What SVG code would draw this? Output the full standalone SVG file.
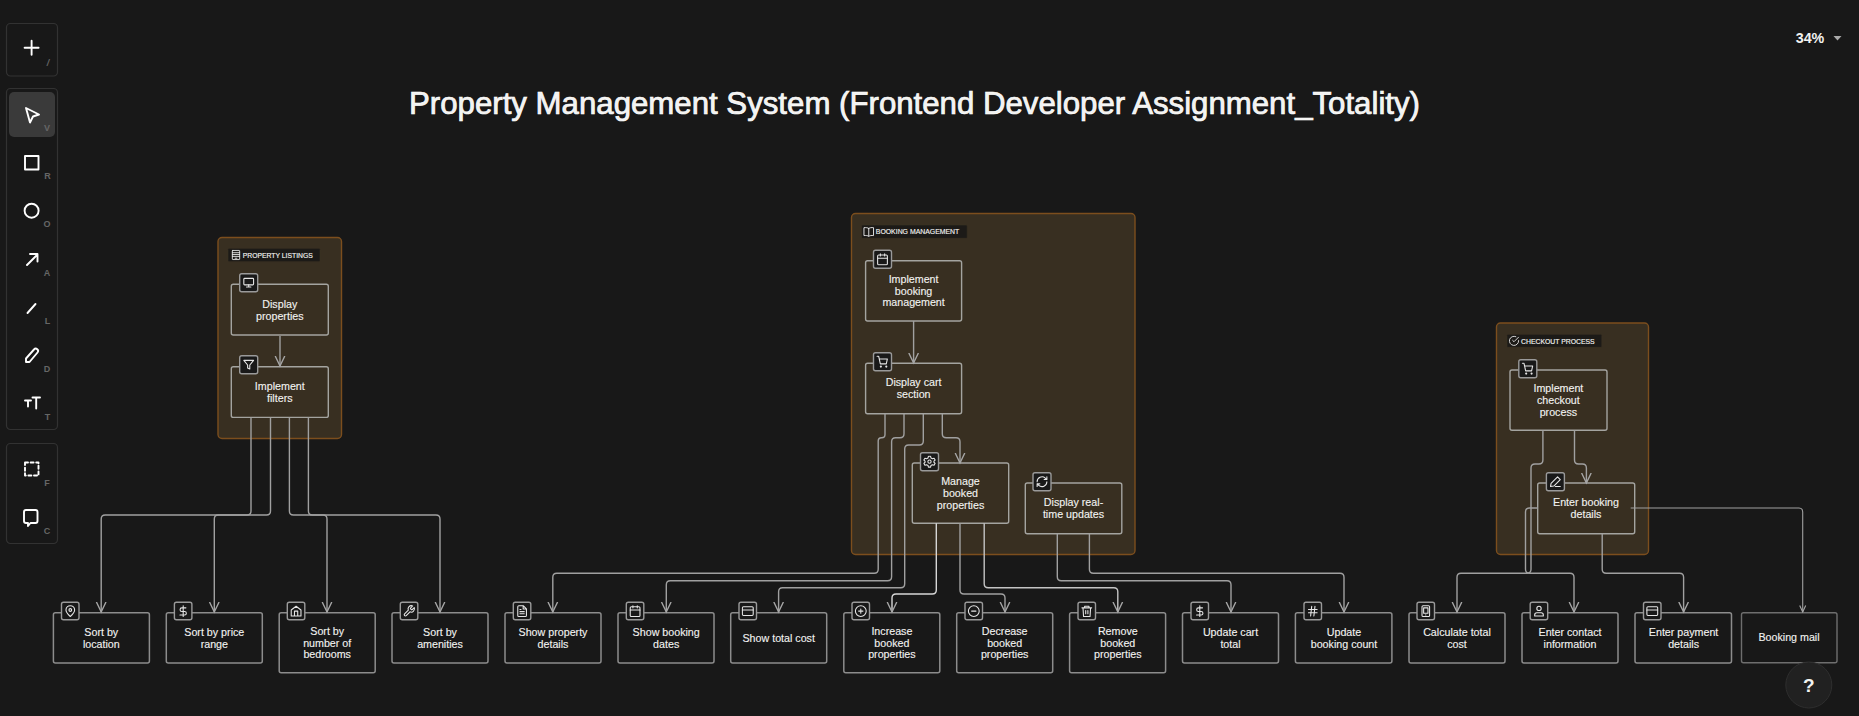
<svg xmlns="http://www.w3.org/2000/svg" width="1859" height="716" viewBox="0 0 1859 716">
<style>
text{font-family:"Liberation Sans",Arial,sans-serif;fill:#f2f2f0}
.t{font-size:10.7px;text-anchor:middle;stroke:#f2f2f0;stroke-width:.12}
.k{font-size:9px;fill:#666;text-anchor:middle;font-weight:700}
.gl{font-size:7.4px;stroke:#f2f2f0;stroke-width:.15}
.panel{fill:#181818;stroke:#323232;stroke-width:1.2}
.tool{fill:none;stroke:#fff;stroke-width:1.9;stroke-linecap:round;stroke-linejoin:round}
.frame{fill:#382f21;stroke:#7c4e1d;stroke-width:1.4}
.lab{fill:#1c1a17;stroke:#3a3224;stroke-width:.6}
.node{fill:none;stroke:#a4a4a0;stroke-width:1.4}
.nb{fill:none;stroke:#8c8c8c;stroke-width:1.5}
.badge{fill:#191919;stroke:#9a9a9a;stroke-width:1.4}
.ic{fill:none;stroke:#e6e6e6;stroke-width:2;stroke-linecap:round;stroke-linejoin:round}
.c{fill:none;stroke:#a0a0a0;stroke-width:1.4;marker-end:url(#ah)}
.c2{fill:none;stroke:#a0a0a0;stroke-width:1.1;marker-end:url(#ahs)}
</style>
<defs>
<marker id="ah" markerUnits="userSpaceOnUse" markerWidth="12" markerHeight="12" viewBox="0 0 12 12" refX="10.5" refY="6" orient="auto"><path d="M0.5,1.2 L10.5,6 L0.5,10.8" fill="none" stroke="#a6a6a6" stroke-width="1.4"/></marker>
<marker id="ahs" markerUnits="userSpaceOnUse" markerWidth="8" markerHeight="8" viewBox="0 0 8 8" refX="7" refY="4" orient="auto"><path d="M0.5,1 L7,4 L0.5,7" fill="none" stroke="#a6a6a6" stroke-width="1.1"/></marker>
<symbol id="i-monitor" viewBox="0 0 24 24"><rect class="ic" x="3" y="4" width="18" height="12" rx="1.5"/><path class="ic" d="M12 16v4M8 20h8"/></symbol>
<symbol id="i-filter" viewBox="0 0 24 24"><path class="ic" d="M3 4h18l-7 8.5V20l-4-2v-5.500z"/></symbol>
<symbol id="i-pin" viewBox="0 0 24 24"><path class="ic" d="M12 22C6 16.500 4 13.500 4 10a8 8 0 0 1 16 0c0 3.500-2 6.500-8 12z"/><circle class="ic" cx="12" cy="10" r="2.500"/></symbol>
<symbol id="i-dollar" viewBox="0 0 24 24"><path class="ic" d="M12 2v20M17 6H9.500a3.300 3.300 0 0 0 0 6.600h5a3.300 3.300 0 0 1 0 6.600H6"/></symbol>
<symbol id="i-home" viewBox="0 0 24 24"><path class="ic" d="M3 10l9-7 9 7v11H3zM9 21v-9h6v9"/></symbol>
<symbol id="i-wrench" viewBox="0 0 24 24"><path class="ic" d="M14.700 6.300a1 1 0 0 0 0 1.400l1.600 1.600a1 1 0 0 0 1.400 0l3.800-3.800a6 6 0 0 1-7.900 7.900l-6.900 6.900a2.100 2.100 0 0 1-3-3l6.900-6.900a6 6 0 0 1 7.900-7.900z"/></symbol>
<symbol id="i-doc" viewBox="0 0 24 24"><path class="ic" d="M14 2H6a2 2 0 0 0-2 2v16a2 2 0 0 0 2 2h12a2 2 0 0 0 2-2V8zM14 2v6h6M8 13h8M8 17h8M8 9h2"/></symbol>
<symbol id="i-cal" viewBox="0 0 24 24"><rect class="ic" x="3" y="4" width="18" height="18" rx="2"/><path class="ic" d="M8 2v4M16 2v4M3 10h18"/></symbol>
<symbol id="i-card" viewBox="0 0 24 24"><rect class="ic" x="2" y="4" width="20" height="16" rx="2"/><path class="ic" d="M2 10h20"/></symbol>
<symbol id="i-plus" viewBox="0 0 24 24"><circle class="ic" cx="12" cy="12" r="10"/><path class="ic" d="M12 8v8M8 12h8"/></symbol>
<symbol id="i-minus" viewBox="0 0 24 24"><circle class="ic" cx="12" cy="12" r="10"/><path class="ic" d="M8 12h8"/></symbol>
<symbol id="i-trash" viewBox="0 0 24 24"><path class="ic" d="M3 6h18M8 6V3h8v3M5 6l1 16h12l1-16M10 11v6M14 11v6"/></symbol>
<symbol id="i-hash" viewBox="0 0 24 24"><path class="ic" d="M4 9h16M4 15h16M10 3L8 21M16 3l-2 18"/></symbol>
<symbol id="i-tablet" viewBox="0 0 24 24"><rect class="ic" x="5" y="2" width="14" height="20" rx="2"/><rect class="ic" x="8" y="6" width="8" height="10"/><path class="ic" d="M12 19h.01"/></symbol>
<symbol id="i-user" viewBox="0 0 24 24"><circle class="ic" cx="12" cy="7" r="4"/><path class="ic" d="M4 21v-2a4 4 0 0 1 4-4h8a4 4 0 0 1 4 4v2z"/></symbol>
<symbol id="i-cart" viewBox="0 0 24 24"><circle class="ic" cx="9" cy="21" r="1"/><circle class="ic" cx="19" cy="21" r="1"/><path class="ic" d="M2 2h3l3 14h11l2-9H6"/></symbol>
<symbol id="i-gear" viewBox="0 0 24 24"><circle class="ic" cx="12" cy="12" r="3"/><path class="ic" d="M10 2h4l.7 3 2.700 1.500 3-1 2 3.500-2.200 2 0 2 2.200 2-2 3.500-3-1-2.700 1.500-.7 3h-4l-.7-3-2.700-1.500-3 1-2-3.500 2.200-2 0-2-2.200-2 2-3.500 3 1L9.300 5z"/></symbol>
<symbol id="i-sync" viewBox="0 0 24 24"><path class="ic" d="M3 12a9 9 0 0 1 15-6.700L21 8M21 3v5h-5M21 12a9 9 0 0 1-15 6.700L3 16M3 21v-5h5"/></symbol>
<symbol id="i-pen" viewBox="0 0 24 24"><path class="ic" d="M16 3l5 5L9 20l-6 1 1-6zM12 21h9"/></symbol>
<symbol id="i-bld" viewBox="0 0 24 24"><rect class="ic" x="4" y="2" width="16" height="20" rx="1"/><path class="ic" d="M4 7h16M4 11h16M4 15h16M10 19h4"/></symbol>
<symbol id="i-book" viewBox="0 0 24 24"><path class="ic" d="M12 5C10 3.500 6 3 2 3.500V20c4-.5 8 0 10 1.500 2-1.500 6-2 10-1.500V3.500C18 3 14 3.500 12 5zM12 5v16"/></symbol>
<symbol id="i-check" viewBox="0 0 24 24"><path class="ic" d="M22 11v1a10 10 0 1 1-6-9.100M9 11l3 3L22 4"/></symbol>
</defs>

<rect width="1859" height="716" fill="#181818"/>

<g id="toolbar">
<rect class="panel" x="6.500" y="23.500" width="51" height="52.500" rx="4"/>
<rect class="panel" x="6.500" y="88.500" width="51" height="341" rx="4"/>
<rect class="panel" x="6.500" y="443.500" width="51" height="100" rx="4"/>
<rect x="9" y="92" width="46" height="45" rx="5" fill="#3a3a3a"/>
<path class="tool" d="M31.600 40.700v14M24.600 47.700h14"/>
<path class="tool" d="M27 107l13 6.500-6 2-3 6z" transform="translate(-1,1)" stroke-width="1.700"/>
<rect class="tool" x="25" y="156" width="13.500" height="13.500"/>
<circle class="tool" cx="31.600" cy="210.700" r="7"/>
<path class="tool" d="M27 265l10-10M30 254h7.500v7.500"/>
<path class="tool" d="M27.500 313l8-9"/>
<path class="tool" d="M26 362v-3.500l8-9a2 2 0 0 1 3.500 3l-8 9.500z" stroke-width="1.600"/>
<path class="tool" d="M25 400.500h6M28 400.500v6M32.500 397.500h7.500M36.200 397.500v11"/>
<rect class="tool" x="25" y="462.500" width="13.500" height="13" stroke-dasharray="3 2.600"/>
<path class="tool" d="M26 510h9.500a2 2 0 0 1 2 2v9a2 2 0 0 1-2 2h-5l-2.500 3v-3h-2a2 2 0 0 1-2-2v-9a2 2 0 0 1 2-2z"/>
<text class="k" x="48" y="66" font-style="italic">/</text>
<text class="k" x="47" y="131">V</text>
<text class="k" x="47.500" y="179">R</text>
<text class="k" x="47" y="227">O</text>
<text class="k" x="47" y="276">A</text>
<text class="k" x="47.500" y="324">L</text>
<text class="k" x="47" y="372">D</text>
<text class="k" x="47.500" y="420">T</text>
<text class="k" x="47" y="486">F</text>
<text class="k" x="47" y="534">C</text>
</g>

<text id="title" x="409" y="114" font-size="31" textLength="1011" lengthAdjust="spacingAndGlyphs" fill="#fff" stroke="#fff" stroke-width=".7">Property Management System (Frontend Developer Assignment_Totality)</text>

<g id="zoom-control">
<text x="1795.700" y="43.300" font-size="14.300" font-weight="700" fill="#fff">34%</text>
<path d="M1833.500 36h8l-4 4.500z" fill="#aaa"/>
</g>

<g id="frames">
<g id="frame-property">
<rect class="frame" x="218" y="237.500" width="123.500" height="201" rx="4"/>
<rect class="lab" x="228" y="248.300" width="92" height="13.400" rx="1"/>
<use href="#i-bld" x="230.500" y="249.500" width="11" height="11"/>
<text class="gl" x="242.800" y="258" textLength="70" lengthAdjust="spacingAndGlyphs">PROPERTY LISTINGS</text>
</g>
<g id="frame-booking">
<rect class="frame" x="851.500" y="213.500" width="283.500" height="341" rx="4"/>
<rect class="lab" x="861.600" y="225" width="105.600" height="13.300" rx="1"/>
<use href="#i-book" x="863" y="226" width="11.500" height="11.500"/>
<text class="gl" x="875.800" y="234.300" textLength="83.500" lengthAdjust="spacingAndGlyphs">BOOKING MANAGEMENT</text>
</g>
<g id="frame-checkout">
<rect class="frame" x="1496.500" y="323" width="152" height="231.500" rx="4"/>
<rect class="lab" x="1507" y="334.300" width="94.800" height="13" rx="1"/>
<use href="#i-check" x="1508.500" y="335.300" width="11" height="11"/>
<text class="gl" x="1521" y="344" textLength="73.700" lengthAdjust="spacingAndGlyphs">CHECKOUT PROCESS</text>
</g>
</g>

<g id="nodes">
<g id="n-display-properties"><rect class="node" x="231.300" y="284.300" width="97" height="50.700" rx="2"/><rect class="badge" x="239.700" y="273.700" width="18" height="18" rx="2"/><use href="#i-monitor" x="242.200" y="276.200" width="13" height="13"/><text class="t" x="279.800" y="308.300">Display</text><text class="t" x="279.800" y="320">properties</text></g>
<g id="n-implement-filters"><rect class="node" x="231.300" y="366.700" width="97" height="50.700" rx="2"/><rect class="badge" x="239.700" y="355.700" width="18" height="18" rx="2"/><use href="#i-filter" x="242.200" y="358.200" width="13" height="13"/><text class="t" x="279.800" y="390">Implement</text><text class="t" x="279.800" y="401.700">filters</text></g>

<g id="n-implement-booking"><rect class="node" x="865.600" y="260.700" width="96" height="60.300" rx="2"/><rect class="badge" x="873.500" y="250.300" width="18" height="18" rx="2"/><use href="#i-cal" x="876" y="252.800" width="13" height="13"/><text class="t" x="913.600" y="282.700">Implement</text><text class="t" x="913.600" y="294.500">booking</text><text class="t" x="913.600" y="306">management</text></g>
<g id="n-display-cart"><rect class="node" x="865.600" y="363.300" width="96" height="50.400" rx="2"/><rect class="badge" x="873.500" y="352.700" width="18" height="18" rx="2"/><use href="#i-cart" x="876" y="355.200" width="13" height="13"/><text class="t" x="913.600" y="386.300">Display cart</text><text class="t" x="913.600" y="398">section</text></g>
<g id="n-manage-booked"><rect class="node" x="912.300" y="463" width="96.400" height="60.300" rx="2"/><rect class="badge" x="920.500" y="452.700" width="18" height="18" rx="2"/><use href="#i-gear" x="923" y="455.200" width="13" height="13"/><text class="t" x="960.500" y="485">Manage</text><text class="t" x="960.500" y="496.700">booked</text><text class="t" x="960.500" y="508.500">properties</text></g>
<g id="n-realtime"><rect class="node" x="1025.300" y="483" width="96.500" height="50.700" rx="2"/><rect class="badge" x="1033" y="472.700" width="18" height="18" rx="2"/><use href="#i-sync" x="1035.500" y="475.200" width="13" height="13"/><text class="t" x="1073.500" y="506">Display real-</text><text class="t" x="1073.500" y="518">time updates</text></g>

<g id="n-implement-checkout"><rect class="node" x="1510" y="370" width="97" height="60.300" rx="2"/><rect class="badge" x="1518.800" y="359.700" width="18" height="18" rx="2"/><use href="#i-cart" x="1521.300" y="362.200" width="13" height="13"/><text class="t" x="1558.400" y="392">Implement</text><text class="t" x="1558.400" y="403.700">checkout</text><text class="t" x="1558.400" y="415.500">process</text></g>
<g id="n-enter-booking"><rect class="node" x="1537.700" y="483" width="97" height="50.700" rx="2"/><rect class="badge" x="1546.400" y="472.700" width="18" height="18" rx="2"/><use href="#i-pen" x="1548.900" y="475.200" width="13" height="13"/><text class="t" x="1586" y="506">Enter booking</text><text class="t" x="1586" y="518">details</text></g>

<g id="n-sort-location"><rect class="nb" x="53.400" y="612.700" width="96" height="50.300" rx="2"/><rect class="badge" x="61.500" y="602.300" width="17.500" height="17.500" rx="2"/><use href="#i-pin" x="63.800" y="604.600" width="13" height="13"/><text class="t" x="101.300" y="635.700">Sort by</text><text class="t" x="101.300" y="647.500">location</text></g>
<g id="n-sort-price"><rect class="nb" x="166.300" y="612.700" width="96" height="50.300" rx="2"/><rect class="badge" x="174.400" y="602.300" width="17.500" height="17.500" rx="2"/><use href="#i-dollar" x="176.700" y="604.600" width="13" height="13"/><text class="t" x="214.300" y="635.700">Sort by price</text><text class="t" x="214.300" y="647.500">range</text></g>
<g id="n-sort-bedrooms"><rect class="nb" x="279.200" y="612.700" width="96" height="60" rx="2"/><rect class="badge" x="287.300" y="602.300" width="17.500" height="17.500" rx="2"/><use href="#i-home" x="289.600" y="604.600" width="13" height="13"/><text class="t" x="327.200" y="635">Sort by</text><text class="t" x="327.200" y="646.700">number of</text><text class="t" x="327.200" y="658.300">bedrooms</text></g>
<g id="n-sort-amenities"><rect class="nb" x="392" y="612.700" width="96" height="50.300" rx="2"/><rect class="badge" x="400.300" y="602.300" width="17.500" height="17.500" rx="2"/><use href="#i-wrench" x="402.600" y="604.600" width="13" height="13"/><text class="t" x="440" y="635.700">Sort by</text><text class="t" x="440" y="647.500">amenities</text></g>
<g id="n-show-property"><rect class="nb" x="505" y="612.700" width="96" height="50.300" rx="2"/><rect class="badge" x="513.300" y="602.300" width="17.500" height="17.500" rx="2"/><use href="#i-doc" x="515.600" y="604.600" width="13" height="13"/><text class="t" x="553" y="635.700">Show property</text><text class="t" x="553" y="647.500">details</text></g>
<g id="n-show-dates"><rect class="nb" x="618" y="612.700" width="96" height="50.300" rx="2"/><rect class="badge" x="626.300" y="602.300" width="17.500" height="17.500" rx="2"/><use href="#i-cal" x="628.600" y="604.600" width="13" height="13"/><text class="t" x="666.200" y="635.700">Show booking</text><text class="t" x="666.200" y="647.500">dates</text></g>
<g id="n-show-cost"><rect class="nb" x="730.700" y="612.700" width="96" height="50.300" rx="2"/><rect class="badge" x="739" y="602.300" width="17.500" height="17.500" rx="2"/><use href="#i-card" x="741.300" y="604.600" width="13" height="13"/><text class="t" x="778.700" y="641.700">Show total cost</text></g>
<g id="n-increase"><rect class="nb" x="843.800" y="612.700" width="96" height="60" rx="2"/><rect class="badge" x="852" y="602.300" width="17.500" height="17.500" rx="2"/><use href="#i-plus" x="854.300" y="604.600" width="13" height="13"/><text class="t" x="891.900" y="635">Increase</text><text class="t" x="891.900" y="646.700">booked</text><text class="t" x="891.900" y="658.300">properties</text></g>
<g id="n-decrease"><rect class="nb" x="956.700" y="612.700" width="96" height="60" rx="2"/><rect class="badge" x="965" y="602.300" width="17.500" height="17.500" rx="2"/><use href="#i-minus" x="967.300" y="604.600" width="13" height="13"/><text class="t" x="1004.700" y="635">Decrease</text><text class="t" x="1004.700" y="646.700">booked</text><text class="t" x="1004.700" y="658.300">properties</text></g>
<g id="n-remove"><rect class="nb" x="1069.600" y="612.700" width="96" height="60" rx="2"/><rect class="badge" x="1078" y="602.300" width="17.500" height="17.500" rx="2"/><use href="#i-trash" x="1080.300" y="604.600" width="13" height="13"/><text class="t" x="1117.800" y="635">Remove</text><text class="t" x="1117.800" y="646.700">booked</text><text class="t" x="1117.800" y="658.300">properties</text></g>
<g id="n-update-cart"><rect class="nb" x="1182.500" y="612.700" width="96" height="50.300" rx="2"/><rect class="badge" x="1191" y="602.300" width="17.500" height="17.500" rx="2"/><use href="#i-dollar" x="1193.300" y="604.600" width="13" height="13"/><text class="t" x="1230.500" y="635.700">Update cart</text><text class="t" x="1230.500" y="647.500">total</text></g>
<g id="n-update-count"><rect class="nb" x="1295.400" y="612.700" width="96.500" height="50.300" rx="2"/><rect class="badge" x="1304" y="602.300" width="17.500" height="17.500" rx="2"/><use href="#i-hash" x="1306.300" y="604.600" width="13" height="13"/><text class="t" x="1344" y="635.700">Update</text><text class="t" x="1344" y="647.500">booking count</text></g>
<g id="n-calc"><rect class="nb" x="1409" y="612.700" width="96" height="50.300" rx="2"/><rect class="badge" x="1417" y="602.300" width="17.500" height="17.500" rx="2"/><use href="#i-tablet" x="1419.300" y="604.600" width="13" height="13"/><text class="t" x="1457" y="635.700">Calculate total</text><text class="t" x="1457" y="647.500">cost</text></g>
<g id="n-contact"><rect class="nb" x="1522" y="612.700" width="96" height="50.300" rx="2"/><rect class="badge" x="1530.200" y="602.300" width="17.500" height="17.500" rx="2"/><use href="#i-user" x="1532.500" y="604.600" width="13" height="13"/><text class="t" x="1570" y="635.700">Enter contact</text><text class="t" x="1570" y="647.500">information</text></g>
<g id="n-payment"><rect class="nb" x="1635" y="612.700" width="96.500" height="50.300" rx="2"/><rect class="badge" x="1643.500" y="602.300" width="17.500" height="17.500" rx="2"/><use href="#i-card" x="1645.800" y="604.600" width="13" height="13"/><text class="t" x="1683.600" y="635.700">Enter payment</text><text class="t" x="1683.600" y="647.500">details</text></g>
<g id="n-mail"><rect x="1741.500" y="612.700" width="95.500" height="50" rx="2" fill="none" stroke="#6e6e6e" stroke-width="1.400"/><text class="t" x="1789" y="640.700">Booking mail</text></g>
</g>

<g id="connectors">
<path class="c" d="M280,336V366"/>
<path class="c" d="M251,417.500V511Q251,515 247,515H105.200Q101.200,515 101.200,519V612"/>
<path class="c" d="M270.500,417.500V511Q270.500,515 266.500,515H218.300Q214.300,515 214.300,519V612"/>
<path class="c" d="M289.400,417.500V511Q289.400,515 293.400,515H323Q327,515 327,519V612"/>
<path class="c" d="M308.400,417.500V511Q308.400,515 312.400,515H436Q440,515 440,519V612"/>
<path class="c" d="M913.600,321V363"/>
<path class="c" d="M885,413.700V434.500Q885,437.700 881.800,437.700H881.400Q878.200,437.700 878.200,441V569.300Q878.200,573.300 874.200,573.300H556.800Q552.800,573.300 552.800,577.300V612"/>
<path class="c" d="M904,413.700V433.700Q904,437.700 900,437.700H895.600Q891.600,437.700 891.600,441.700V576.700Q891.600,580.700 887.600,580.700H670.300Q666.300,580.700 666.300,584.700V612"/>
<path class="c" d="M923.300,413.700V441Q923.300,445 919.300,445H908.700Q904.700,445 904.700,449V583.700Q904.700,587.700 900.700,587.700H782.600Q778.600,587.700 778.600,591.700V612"/>
<path class="c" d="M942.300,413.700V433.700Q942.300,437.700 946.300,437.700H956Q960,437.700 960,441.700V463"/>
<path class="c" d="M936.300,523.300V590Q936.300,594 932.300,594H896Q892,594 892,598V612" style="stroke:#d6d6d6"/>
<path class="c" d="M960,523.300V590Q960,594 964,594H1001Q1005,594 1005,598V612"/>
<path class="c" d="M984.200,523.300V583.700Q984.200,587.700 988.200,587.700H1113.800Q1117.800,587.700 1117.800,591.700V612" style="stroke:#c4c4c4"/>
<path class="c" d="M1057.300,533.700V576.700Q1057.300,580.700 1061.300,580.700H1227Q1231,580.700 1231,584.700V612"/>
<path class="c" d="M1089.400,533.700V569.300Q1089.400,573.300 1093.400,573.300H1340Q1344,573.300 1344,577.300V612"/>
<path class="c" d="M1542.900,430.300V460Q1542.900,464 1538.900,464H1535Q1531,464 1531,468V569.300Q1531,573.300 1527,573.300H1461Q1457,573.300 1457,577.300V612"/>
<path class="c" d="M1537.700,508H1529.500Q1525.500,508 1525.500,512V569.300Q1525.500,573.300 1529.500,573.300H1570Q1574,573.300 1574,577.300V612"/>
<path class="c" d="M1574.500,430.300V460Q1574.500,464 1578.500,464H1582.400Q1586.400,464 1586.400,468V483"/>
<path class="c" d="M1602.200,533.700V569.300Q1602.200,573.300 1606.200,573.300H1679.600Q1683.600,573.300 1683.600,577.300V612"/>
<path class="c2" d="M1630.700,508H1798.700Q1802.700,508 1802.700,512V612"/>
</g>

<g id="help">
<circle cx="1808.800" cy="685" r="23" fill="#212121" stroke="#2e2e2e"/>
<text x="1808.800" y="691.700" font-size="19" font-weight="700" text-anchor="middle" fill="#fff">?</text>
</g>
</svg>
